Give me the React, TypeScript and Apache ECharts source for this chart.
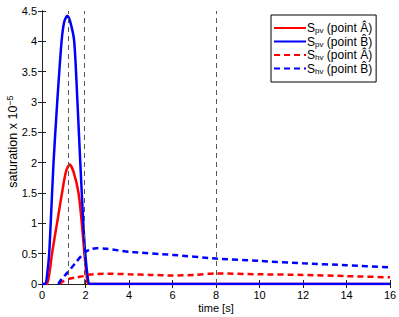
import React, { useEffect, useRef } from "react";
import * as echarts from "echarts";

const pvA: [number, number][] = [
  [0, 0], [0.22, 0], [0.35, 0.2], [0.46, 0.5], [0.69, 1.0], [0.92, 1.5], [1.1, 1.85],
  [1.27, 1.97], [1.45, 1.85], [1.68, 1.5], [1.83, 1.0], [1.95, 0.5], [2.05, 0.15],
  [2.14, 0], [16, 0],
];
const pvB: [number, number][] = [
  [0, 0], [0.15, 0], [0.25, 0.2], [0.33, 0.5], [0.4, 1.0], [0.53, 2.0], [0.7, 3.0],
  [0.9, 4.0], [1.02, 4.32], [1.16, 4.42], [1.3, 4.32], [1.48, 4.0], [1.63, 3.0],
  [1.76, 2.0], [1.9, 1.0], [1.99, 0.5], [2.1, 0.12], [2.2, 0], [16, 0],
];
const hvA: [number, number][] = [
  [0.8, 0], [1.0, 0.05], [1.2, 0.08], [1.6, 0.11], [1.9, 0.13], [2.2, 0.155], [3, 0.17],
  [4, 0.16], [5, 0.15], [6, 0.14], [7, 0.15], [8, 0.175], [10, 0.16], [12, 0.15],
  [14, 0.13], [16, 0.11],
];
const hvB: [number, number][] = [
  [0.75, 0], [0.9, 0.08], [1.2, 0.2], [1.5, 0.33], [1.9, 0.5], [2.2, 0.57], [2.5, 0.59],
  [3, 0.58], [4, 0.53], [6, 0.48], [8, 0.42], [10, 0.38], [12, 0.34], [14, 0.31],
  [16, 0.275],
];
const markerTimes = [1.2, 1.95, 8];
const seriesNames = ["pvA", "pvB", "hvA", "hvB"];
const legendSub: Record<string, string> = { pvA: "pv", pvB: "pv", hvA: "hv", hvB: "hv" };
const legendPoint: Record<string, string> = { pvA: "A\u0302", pvB: "B\u0302", hvA: "A\u0302", hvB: "B\u0302" };

const FONT = "Liberation Sans";

export default function App() {
  const ref = useRef<HTMLDivElement>(null);
  useEffect(() => {
    const chart = echarts.init(ref.current!, null, { renderer: "svg" });
    const axisCommon = {
      min: 0,
      axisLine: { show: true, lineStyle: { color: "#222", width: 1 } },
      axisTick: { show: true, inside: true, length: 4, lineStyle: { color: "#222" } },
      splitLine: { show: false },
    };
    const mk = (name: string, data: [number, number][], color: string, dashed: boolean, extra: any = {}) => ({
      name,
      type: "line",
      data,
      smooth: 0.25,
      symbol: "none",
      lineStyle: { color, width: 2.5, type: dashed ? [6, 4] : "solid" },
      itemStyle: { color },
      ...extra,
    });
    chart.setOption({
      animation: false,
      grid: { left: 42, right: 9, top: 11, bottom: 33, containLabel: false, outerBoundsMode: "none" },
      xAxis: [
        {
          ...axisCommon,
          type: "value",
          max: 16,
          interval: 2,
          name: "time [s]",
          nameLocation: "middle",
          nameGap: 18,
          nameMoveOverlap: false,
          nameTextStyle: { fontFamily: FONT, fontSize: 11, color: "#000" },
          axisLabel: { fontFamily: FONT, fontSize: 11, color: "#000", margin: 5 },
        },
        {
          ...axisCommon,
          type: "value",
          position: "top",
          max: 16,
          interval: 2,
          axisLabel: { show: false },
        },
      ],
      yAxis: [
        {
          ...axisCommon,
          type: "value",
          max: 4.5,
          interval: 0.5,
          name: "{a|saturation x 10}{b|\u22125}",
          nameLocation: "middle",
          nameGap: 21,
          nameMoveOverlap: false,
          nameTextStyle: {
            fontFamily: FONT,
            fontSize: 12.5,
            color: "#000",
            padding: [0, 0, 0, 12],
            rich: {
              a: { fontFamily: FONT, fontSize: 12.5, color: "#000" },
              b: { fontFamily: FONT, fontSize: 9, color: "#000", verticalAlign: "top", padding: [0, 0, 7, 0] },
            },
          },
          axisLabel: { fontFamily: FONT, fontSize: 11, color: "#000", margin: 5 },
        },
        {
          ...axisCommon,
          type: "value",
          position: "right",
          max: 4.5,
          interval: 0.5,
          axisLabel: { show: false },
        },
      ],
      legend: {
        orient: "vertical",
        left: 271,
        top: 15,
        width: 116,
        backgroundColor: "#fff",
        borderColor: "#000",
        borderWidth: 1,
        borderRadius: 0,
        padding: [7, 4, 7, 2],
        itemWidth: 32,
        itemHeight: 14,
        itemGap: 1,
        itemStyle: { opacity: 0 },
        data: seriesNames,
        formatter: (n: string) => `{s|S}{sub|${legendSub[n]}}{t| (point ${legendPoint[n]})}`,
        textStyle: {
          fontFamily: FONT,
          fontSize: 12,
          color: "#000",
          padding: [0, 0, 0, -4],
          rich: {
            s: { fontFamily: FONT, fontSize: 12, color: "#000" },
            sub: { fontFamily: FONT, fontSize: 8, color: "#000", verticalAlign: "bottom", padding: [5, 0, 0, 0] },
            t: { fontFamily: FONT, fontSize: 12, color: "#000" },
          },
        },
      },
      series: [
        mk("pvA", pvA, "#ff0000", false, {
          markLine: {
            silent: true,
            symbol: "none",
            label: { show: false },
            lineStyle: { color: "#555", width: 1, type: [5, 4] },
            data: markerTimes.map((t) => ({ xAxis: t })),
          },
        }),
        mk("pvB", pvB, "#0000ff", false),
        mk("hvA", hvA, "#ff0000", true),
        mk("hvB", hvB, "#0000ff", true),
      ],
    });
    return () => chart.dispose();
  }, []);
  return <div ref={ref} style={{ position: "absolute", left: 0, top: 0, width: 399, height: 317 }} />;
}
